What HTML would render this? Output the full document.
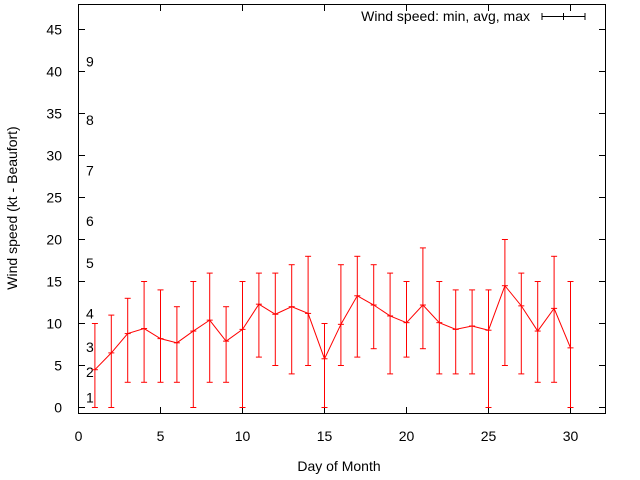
<!DOCTYPE html>
<html><head><meta charset="utf-8"><style>
body{margin:0;background:#fff;}
svg{display:block;font-family:"Liberation Sans",sans-serif;}
</style></head><body>
<svg id="chart" width="640" height="480" viewBox="0 0 640 480" xmlns="http://www.w3.org/2000/svg">
<rect x="78.5" y="4.5" width="527" height="409" fill="none" stroke="#000" stroke-width="1"/>
<g id="axes"></g>
<g id="beaufort"></g>
<g id="series"></g>
<text transform="translate(17,208) rotate(-90)" text-anchor="middle" font-size="14" fill="#000">Wind speed (kt - Beaufort)</text>
<text x="339" y="471" text-anchor="middle" font-size="14" fill="#000">Day of Month</text>
<g>
<text x="530" y="21" text-anchor="end" font-size="14" fill="#000">Wind speed: min, avg, max</text>
<line x1="542" y1="16.5" x2="585" y2="16.5" stroke="#000"/>
<line x1="542" y1="13" x2="542" y2="20" stroke="#000"/>
<line x1="585" y1="13" x2="585" y2="20" stroke="#000"/>
<line x1="563.5" y1="13" x2="563.5" y2="20" stroke="#000"/>
</g>
</svg>
<script>
const days=[1,2,3,4,5,6,7,8,9,10,11,12,13,14,15,16,17,18,19,20,21,22,23,24,25,26,27,28,29,30];
const minVals=[0,0,3,3,3,3,0,3,3,0,6,5,4,5,0,5,6,7,4,6,7,4,4,4,0,5,4,3,3,0];
const avgVals=[4.5,6.5,8.8,9.4,8.2,7.7,9.1,10.4,7.9,9.3,12.3,11.1,12.0,11.2,5.8,9.9,13.3,12.2,10.9,10.1,12.2,10.1,9.3,9.7,9.2,14.5,12.1,9.1,11.8,7.1];
const maxVals=[10,11,13,15,14,12,15,16,12,15,16,16,17,18,10,17,18,17,16,15,19,15,14,14,14,20,16,15,18,15];
const xTicks=[0,5,10,15,20,25,30];
const yTicks=[0,5,10,15,20,25,30,35,40,45];
const beaufortLabels=["1","2","3","4","5","6","7","8","9"];
const beaufortKt=[1.2,4.2,7.2,11.2,17.2,22.2,28.2,34.2,41.2];
const X=v=>78.5+v*16.4;
const Y=v=>407.5-v*8.4;
const NS="http://www.w3.org/2000/svg";
function mk(t,a,p){const e=document.createElementNS(NS,t);for(const k in a)e.setAttribute(k,a[k]);p.appendChild(e);return e;}
const ax=document.getElementById('axes');
xTicks.forEach(v=>{
 const l=mk('line',{x1:X(v),x2:X(v),y1:413.5,y2:407,stroke:'#000'},ax);
 
 
 const l2=mk('line',{x1:X(v),x2:X(v),y1:4.5,y2:11,stroke:'#000'},ax);
 
 
 const t=mk('text',{x:X(v),y:441,'text-anchor':'middle','font-size':14,fill:'#000'},ax);
 t.textContent=v;
 
 
});
yTicks.forEach(v=>{
 const l=mk('line',{x1:78.5,x2:85,y1:Y(v),y2:Y(v),stroke:'#000'},ax);
 
 
 const l2=mk('line',{x1:605.5,x2:599,y1:Y(v),y2:Y(v),stroke:'#000'},ax);
 
 
 const t=mk('text',{x:62,y:Y(v)+5,'text-anchor':'end','font-size':14,fill:'#000'},ax);
 t.textContent=v;
 
 
});
const bf=document.getElementById('beaufort');
beaufortLabels.forEach((s,i)=>{
 const t=mk('text',{x:86,y:Y(beaufortKt[i])+5,'font-size':14,fill:'#000'},bf);
 t.textContent=s;
 
 
});
const sr=document.getElementById('series');
days.forEach((d,i)=>{
 const x=X(d);
 const g=mk('g',{stroke:'#f00','stroke-width':1},sr);
 
 
 mk('line',{x1:x,x2:x,y1:Y(minVals[i]),y2:Y(maxVals[i])},g);
 mk('line',{x1:x-3,x2:x+3,y1:Y(minVals[i]),y2:Y(minVals[i])},g);
 mk('line',{x1:x-3,x2:x+3,y1:Y(maxVals[i]),y2:Y(maxVals[i])},g);
 mk('line',{x1:x-3,x2:x+3,y1:Y(avgVals[i]),y2:Y(avgVals[i])},g);
});
const pl=mk('polyline',{points:days.map((d,i)=>X(d)+','+Y(avgVals[i])).join(' '),fill:'none',stroke:'#f00','stroke-width':1},sr);


</script>
</body></html>
